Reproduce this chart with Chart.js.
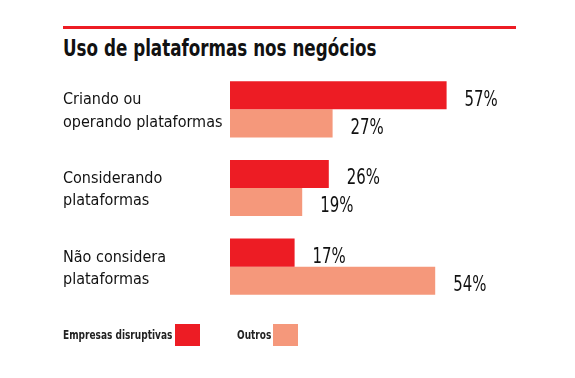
<!DOCTYPE html>
<html>
<head>
<meta charset="utf-8">
<script src="https://cdn.jsdelivr.net/npm/chart.js@4/dist/chart.umd.min.js"></script>
<style>
  html, body { margin: 0; padding: 0; background: #fff; }
  #wrap { position: relative; width: 575px; height: 378px; overflow: hidden;
    font-family: "Liberation Sans Narrow", "DejaVu Sans Condensed", "Roboto", sans-serif; }
  #rule { position: absolute; left: 63px; top: 26px; width: 453px; height: 3px; background: #ED1C24; }
  #title { position: absolute; left: 63px; top: 35px; font-size: 23px; font-weight: bold; color: #111; white-space: nowrap;
    transform: scaleX(0.81); transform-origin: 0 0; }
  #chart { position: absolute; left: 0; top: 0; }
  .ltext { position: absolute; top: 326px; font-size: 13px; font-weight: bold; color: #222; white-space: nowrap;
    transform: scaleX(0.77); transform-origin: 0 0; line-height: 18px; }
  .box { position: absolute; top: 324px; width: 25px; height: 22px; }
</style>
</head>
<body>
<div id="wrap">
  <div id="rule"></div>
  <div id="title">Uso de plataformas nos negócios</div>
  <canvas id="chart" width="575" height="378"></canvas>
  <div id="legend"></div>
</div>
<script>
const categories = [
  ["Criando ou", "operando plataformas"],
  ["Considerando", "plataformas"],
  ["Não considera", "plataformas"]
];
const seriesNames = ["Empresas disruptivas", "Outros"];
const disruptivas = [57, 26, 17];
const outros = [27, 19, 54];
const colors = ["#ED1C24", "#F5987B"];
const FONT = '"Liberation Sans Narrow", "DejaVu Sans Condensed", "Roboto", sans-serif';

const valueLabels = {
  id: 'valueLabels',
  afterDatasetsDraw(chart) {
    const ctx = chart.ctx;
    chart.data.datasets.forEach((ds, i) => {
      chart.getDatasetMeta(i).data.forEach((bar, j) => {
        ctx.save();
        ctx.font = '20.5px ' + FONT;
        ctx.fillStyle = '#111';
        ctx.textAlign = 'left';
        ctx.textBaseline = 'middle';
        ctx.translate(bar.x + 18, bar.y + 5);
        ctx.scale(0.81, 1);
        ctx.fillText(ds.data[j] + '%', 0, 0);
        ctx.restore();
      });
    });
  }
};

const chart = new Chart(document.getElementById('chart'), {
  type: 'bar',
  data: {
    labels: categories,
    datasets: [
      { label: seriesNames[0], data: disruptivas, backgroundColor: colors[0] },
      { label: seriesNames[1], data: outros, backgroundColor: colors[1] }
    ]
  },
  options: {
    indexAxis: 'y',
    responsive: false,
    animation: false,
    categoryPercentage: 0.713,
    barPercentage: 1,
    layout: { padding: { left: 63, top: 70, bottom: 72, right: 41 } },
    plugins: { legend: { display: false }, tooltip: { enabled: false }, title: { display: false } },
    scales: {
      x: { display: false, min: 0, max: 80 },
      y: {
        grid: { display: false, drawTicks: false },
        border: { display: false },
        afterFit(scale) { scale.width = 167; },
        ticks: {
          crossAlign: 'far',
          color: '#111',
          padding: 0,
          labelOffset: 2,
          font: { family: FONT, size: 16, lineHeight: 1.38 }
        }
      }
    }
  },
  plugins: [valueLabels]
});

const legend = document.getElementById('legend');
const legendTextX = [63, 237];
const legendBoxX = [175, 273];
seriesNames.forEach((name, i) => {
  const t = document.createElement('div');
  t.className = 'ltext';
  t.style.left = legendTextX[i] + 'px';
  t.textContent = name;
  const b = document.createElement('div');
  b.className = 'box';
  b.style.left = legendBoxX[i] + 'px';
  b.style.background = colors[i];
  legend.appendChild(t); legend.appendChild(b);
});
</script>
</body>
</html>
